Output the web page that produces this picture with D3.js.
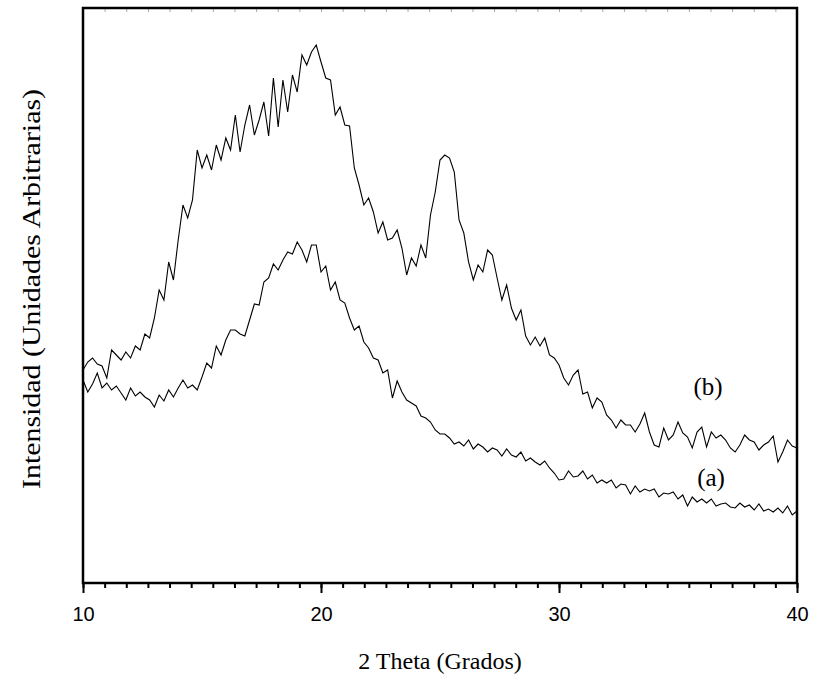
<!DOCTYPE html>
<html>
<head>
<meta charset="utf-8">
<script src="https://cdn.jsdelivr.net/npm/d3@7"></script>
<style>
  body { margin: 0; background: #fff; }
  svg { display: block; }
  .tick text { font-family: "Liberation Sans", Arial, sans-serif; font-size: 20px; fill: #000; }
  .title { font-family: "Liberation Serif", "Times New Roman", serif; fill: #000; }
</style>
</head>
<body>
<svg id="chart" width="814" height="675"></svg>
<script>
// DATA //

// scan sampled every 0.2 deg from 10 to 40 (151 points)
const thetaStart = 10, thetaStep = 0.2

// curve (b)
const intB = [
    213,221,225,219,217,205,233,228,223,231,
    225,237,233,249,245,265,293,283,321,303,
    343,378,365,383,433,415,428,413,438,423,
    445,433,468,431,458,478,448,463,481,447,
    505,456,503,471,508,491,528,518,531,538,
    521,505,503,468,476,458,457,415,398,378,
    385,371,350,361,343,345,353,335,308,325,
    317,338,325,368,391,423,428,425,411,363,
    350,321,303,318,311,333,328,305,283,298,
    275,263,273,247,238,246,237,245,228,225,
    218,205,198,208,213,189,191,175,185,181,
    168,163,155,163,158,158,151,159,170,151,
    138,136,155,143,148,161,150,146,135,151,
    156,136,151,145,148,143,135,131,138,148,
    143,141,133,138,141,147,121,131,143,137,
    135
]

// curve (a)
const intA = [
    203,191,199,210,195,200,193,197,190,183,
    195,187,191,186,183,176,188,182,193,186,
    195,203,195,198,193,206,220,215,237,228,
    243,253,253,249,247,263,279,278,301,305,
    319,313,323,331,329,341,333,321,338,338,
    311,317,293,301,283,280,265,253,257,241,
    235,225,223,210,213,185,202,191,183,180,
    177,167,165,161,153,149,149,145,139,141,
    137,143,134,139,136,131,135,133,127,134,
    128,126,131,122,125,121,118,122,115,110,
    103,104,112,106,107,112,104,108,100,103,
    100,103,95,99,98,89,97,91,94,92,
    94,86,90,89,91,84,88,77,86,81,
    84,80,84,77,79,80,76,75,80,76,
    78,73,79,72,74,71,75,70,77,68,
    72
]

const majorTicks = [10, 20, 30, 40]
const labels = [
    {text: "(b)", theta: 36.26, value: 188},
    {text: "(a)", theta: 36.39, value: 97}
]

// CHART //

const svg = d3.select('#chart')
const plotLeft = 83, plotRight = 797, plotTop = 8, plotBottom = 583

let x = d3.scaleLinear().domain([10, 40]).range([plotLeft, plotRight])
let y = d3.scaleLinear().domain([0, 575]).range([plotBottom, plotTop])

// minor ticks: 11 divisions between majors, as in the original
const minorTicks = d3.range(0, 34).map(i => 10 + i * 10 / 11).filter(d => d <= 40.001)

svg.append('g')
    .attr('transform', `translate(0,${plotBottom})`)
    .call(d3.axisBottom(x).tickValues(minorTicks).tickSize(5).tickSizeOuter(0).tickFormat(''))
    .call(g => g.select('.domain').remove())
    .call(g => g.selectAll('line').attr('stroke', '#000').attr('stroke-width', 2))

svg.append('g')
    .attr('transform', `translate(0,${plotBottom})`)
    .call(d3.axisBottom(x).tickValues(majorTicks).tickSize(10).tickSizeOuter(0).tickPadding(14).tickFormat(d3.format('d')))
    .call(g => g.select('.domain').remove())
    .call(g => g.selectAll('line').attr('stroke', '#000').attr('stroke-width', 2))

// faint inner ticks along the top edge
svg.append('g')
    .attr('transform', `translate(0,${plotTop})`)
    .call(d3.axisTop(x).tickValues(minorTicks).tickSize(-4).tickSizeOuter(0).tickFormat(''))
    .call(g => g.select('.domain').remove())
    .call(g => g.selectAll('line').attr('stroke', '#aaa').attr('stroke-width', 1))

// frame
svg.append('rect')
    .attr('x', plotLeft).attr('y', plotTop)
    .attr('width', plotRight - plotLeft).attr('height', plotBottom - plotTop)
    .attr('fill', 'none').attr('stroke', '#000').attr('stroke-width', 2.5)

const line = d3.line()
    .x((d, i) => x(thetaStart + i * thetaStep))
    .y(d => y(d))

svg.append('path')
    .datum(intA)
    .attr('d', line)
    .attr('fill', 'none').attr('stroke', '#000').attr('stroke-width', 1.1)

svg.append('path')
    .datum(intB)
    .attr('d', line)
    .attr('fill', 'none').attr('stroke', '#000').attr('stroke-width', 1.1)

svg.selectAll('.lbl')
    .data(labels)
    .enter()
    .append('text')
    .attr('class', 'title')
    .attr('x', d => x(d.theta))
    .attr('y', d => y(d.value))
    .attr('text-anchor', 'middle')
    .style('font-size', '25px')
    .text(d => d.text)

// axis titles
svg.append('text')
    .attr('class', 'title')
    .attr('x', 440).attr('y', 669)
    .attr('text-anchor', 'middle')
    .style('font-size', '24px')
    .text('2 Theta (Grados)')

svg.append('text')
    .attr('class', 'title')
    .attr('transform', 'translate(40,289) scale(1,1.15) rotate(-90)')
    .attr('text-anchor', 'middle')
    .style('font-size', '26px')
    .text('Intensidad (Unidades Arbitrarias)')
</script>
</body>
</html>
